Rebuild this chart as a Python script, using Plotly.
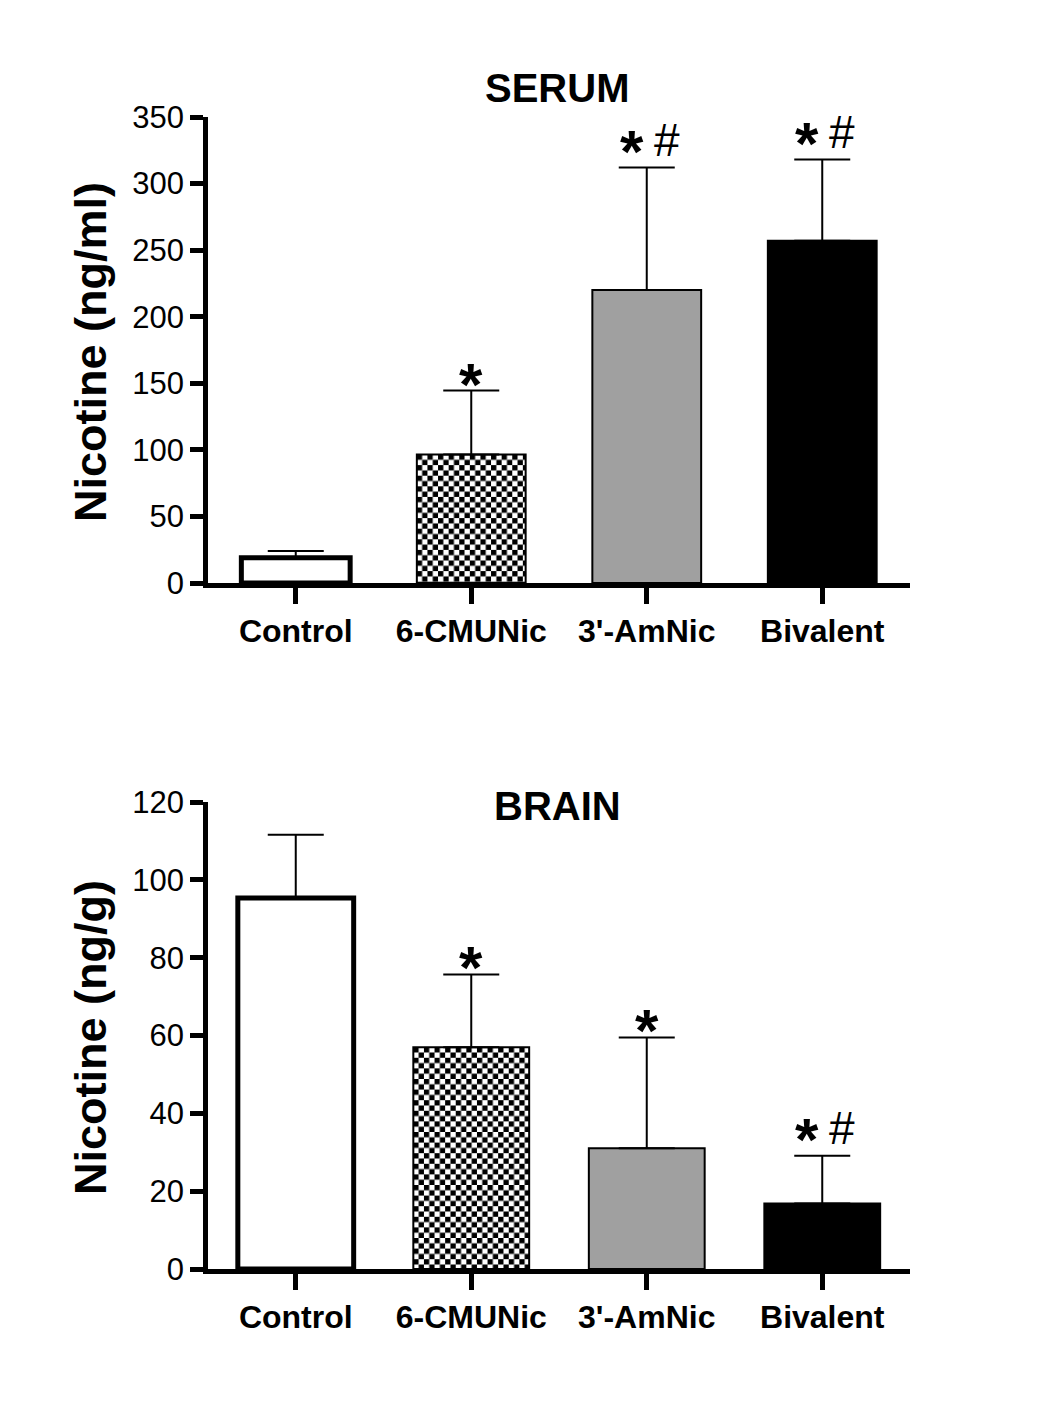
import base64
import plotly.graph_objects as go

# ---------------- data ----------------
categories = ["Control", "6-CMUNic", "3'-AmNic", "Bivalent"]
serum_mean = [19, 96.5, 220, 257]
serum_sd = [5, 48, 92, 61]
serum_marks = ["", "*", "*#", "*#"]
brain_mean = [95.3, 57, 31, 16.8]
brain_sd = [16.3, 18.7, 28.5, 12.3]
brain_marks = ["", "*", "*", "*#"]
serum_ticks = [0, 50, 100, 150, 200, 250, 300, 350]
brain_ticks = [0, 20, 40, 60, 80, 100, 120]

# ---------------- styles ----------------
W, H = 1042, 1408
FONT = "Arial, Liberation Sans, sans-serif"
fills = ["white", "checker", "#a0a0a0", "black"]
line_w = [5, 2, 2, 2]
X_DOM = [208 / W, 910 / W]
panels = [
    dict(mean=serum_mean, sd=serum_sd, marks=serum_marks, ticks=serum_ticks,
         ymax=350, dom=[1 - 583 / H, 1 - 117 / H], bw=0.62,
         title="SERUM", title_y=88, ytitle="Nicotine (ng/ml)", ytitle_y=352,
         xa="x", ya="y"),
    dict(mean=brain_mean, sd=brain_sd, marks=brain_marks, ticks=brain_ticks,
         ymax=120, dom=[1 - 1269 / H, 1 - 802 / H], bw=0.66,
         title="BRAIN", title_y=806, ytitle="Nicotine (ng/g)", ytitle_y=1038,
         xa="x2", ya="y2"),
]


def checker_svg(wpx, hpx, sq=5.3):
    s = (f'<svg xmlns="http://www.w3.org/2000/svg" width="{wpx:.1f}" height="{hpx:.1f}" '
         f'viewBox="0 0 {wpx:.1f} {hpx:.1f}" preserveAspectRatio="none">'
         f'<defs><pattern id="c" width="{2*sq}" height="{2*sq}" patternUnits="userSpaceOnUse">'
         f'<rect width="{2*sq}" height="{2*sq}" fill="white"/>'
         f'<rect width="{sq}" height="{sq}" fill="black"/>'
         f'<rect x="{sq}" y="{sq}" width="{sq}" height="{sq}" fill="black"/>'
         f'</pattern></defs><rect width="100%" height="100%" fill="url(#c)"/></svg>')
    return "data:image/svg+xml;base64," + base64.b64encode(s.encode()).decode()


fig = go.Figure()
annotations = []
images = []
xs = list(range(len(categories)))
plot_w_px = (X_DOM[1] - X_DOM[0]) * W
px_per_x = plot_w_px / len(categories)

for i, p in enumerate(panels):
    colors = ["rgba(0,0,0,0)" if f == "checker" else f for f in fills]
    fig.add_trace(go.Bar(
        x=xs, y=p["mean"], width=p["bw"], xaxis=p["xa"], yaxis=p["ya"],
        marker=dict(color=colors, line=dict(color="black", width=line_w)),
        error_y=dict(type="data", array=p["sd"], arrayminus=[0] * len(xs),
                     symmetric=False, color="black", thickness=2, width=28),
        showlegend=False, hoverinfo="skip",
    ))
    px_per_y = (p["dom"][1] - p["dom"][0]) * H / p["ymax"]
    for k, f in enumerate(fills):
        if f == "checker":
            images.append(dict(
                source=checker_svg(p["bw"] * px_per_x, p["mean"][k] * px_per_y),
                xref=p["xa"], yref=p["ya"], x=xs[k] - p["bw"] / 2, y=0,
                sizex=p["bw"], sizey=p["mean"][k], xanchor="left", yanchor="bottom",
                sizing="stretch", layer="below"))
    # significance marks
    for k, m in enumerate(p["marks"]):
        top = p["mean"][k] + p["sd"][k]
        if "*" in m:
            both = "#" in m
            annotations.append(dict(
                x=xs[k], y=top, xref=p["xa"], yref=p["ya"], text="<b>*</b>",
                showarrow=False, xanchor="center", yanchor="bottom",
                xshift=-15 if both else 0, yshift=-19 if both else -29,
                font=dict(family=FONT, size=60, color="black")))
        if "#" in m:
            annotations.append(dict(
                x=xs[k], y=top, xref=p["xa"], yref=p["ya"], text="#",
                showarrow=False, xanchor="center", yanchor="bottom",
                xshift=20, yshift=0,
                font=dict(family=FONT, size=46, color="black")))
    annotations.append(dict(
        x=557 / W, y=1 - p["title_y"] / H, xref="paper", yref="paper",
        text=f"<b>{p['title']}</b>", showarrow=False, xanchor="center", yanchor="middle",
        font=dict(family=FONT, size=40, color="black")))
    annotations.append(dict(
        x=90 / W, y=1 - p["ytitle_y"] / H, xref="paper", yref="paper",
        text=f"<b>{p['ytitle']}</b>", showarrow=False, textangle=-90,
        xanchor="center", yanchor="middle",
        font=dict(family=FONT, size=45, color="black")))

axis_common = dict(showgrid=False, zeroline=False, showline=True, linecolor="black",
                   linewidth=4.5, ticks="outside", tickcolor="black", tickwidth=4.5,
                   ticklen=13, automargin=False)
layout_axes = {}
for i, p in enumerate(panels):
    sx = "" if i == 0 else "2"
    layout_axes["xaxis" + sx] = dict(
        axis_common, domain=X_DOM, range=[-0.5, len(categories) - 0.5],
        tickvals=xs, ticktext=[f"<b>{c}</b>" for c in categories],
        anchor="y" + sx, ticklen=16,
        tickfont=dict(family=FONT, size=32, color="black"))
    layout_axes["yaxis" + sx] = dict(
        axis_common, domain=p["dom"], range=[0, p["ymax"]], tickvals=p["ticks"],
        anchor="x" + sx, tickfont=dict(family=FONT, size=31, color="black"))

fig.update_layout(
    template="none",
    width=W, height=H, autosize=False,
    margin=dict(l=0, r=0, t=0, b=0, autoexpand=False),
    paper_bgcolor="white", plot_bgcolor="rgba(0,0,0,0)",
    annotations=annotations, images=images, **layout_axes,
)

fig.write_html("out.html", config={"displayModeBar": False},
               post_script="document.body.style.margin='0';document.body.style.padding='0';")
